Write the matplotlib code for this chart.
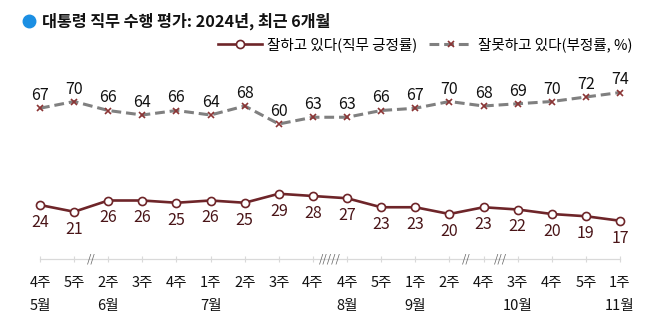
import matplotlib
matplotlib.use('Agg')
import matplotlib.pyplot as plt
import matplotlib.lines as mlines

plt.rcParams['font.family'] = ['Noto Sans CJK KR', 'DejaVu Sans']

weeks = ['4주', '5주', '2주', '3주', '4주', '1주', '2주', '3주', '4주',
         '4주', '5주', '1주', '2주', '4주', '3주', '4주', '5주', '1주']
months = {0: '5월', 2: '6월', 5: '7월', 9: '8월', 11: '9월', 14: '10월', 17: '11월'}
positive = [24, 21, 26, 26, 25, 26, 25, 29, 28, 27, 23, 23, 20, 23, 22, 20, 19, 17]
negative = [67, 70, 66, 64, 66, 64, 68, 60, 63, 63, 66, 67, 70, 68, 69, 70, 72, 74]
# gaps in the weekly series (position between two points, mark)
breaks = [(1.5, '//'), (8.5, '/////'), (12.5, '//'), (13.5, '///')]

red = '#6e2529'
gray = '#808080'
x = list(range(len(weeks)))

fig = plt.figure(figsize=(6.58, 3.33), dpi=100, facecolor='white')
ax = fig.add_axes([40 / 658, 74 / 333, 580 / 658, 180 / 333])
ax.set_xlim(0, len(weeks) - 1)
ax.set_ylim(0, 80)

# lines
ax.plot(x, negative, color=gray, lw=2.2, dashes=(3.2, 1.6), marker='x', ms=4.5,
        mec='#8b3535', mew=1.2, clip_on=False, zorder=3)
ax.plot(x, positive, color=red, lw=1.9, marker='o', ms=5.8, mfc='white',
        mec=red, mew=1.2, clip_on=False, zorder=3)

# value labels
for i, v in zip(x, negative):
    ax.annotate(str(v), (i, v), xytext=(0, 9), textcoords='offset points',
                ha='center', va='center', fontsize=11.5, color='#111111')
for i, v in zip(x, positive):
    ax.annotate(str(v), (i, v), xytext=(0, -12.5), textcoords='offset points',
                ha='center', va='center', fontsize=11.5, color='#4a1518')

# axis
for s in ['top', 'right', 'left']:
    ax.spines[s].set_visible(False)
ax.spines['bottom'].set_color('#d9d9d9')
ax.spines['bottom'].set_linewidth(0.9)
ax.set_yticks([])
ax.set_xticks(x)
ax.set_xticklabels(weeks, fontsize=10.5, color='#111111')
ax.tick_params(axis='x', direction='inout', length=5, width=0.8,
               color='#d9d9d9', pad=10)

trans = ax.get_xaxis_transform()
for i, m in months.items():
    ax.annotate(m, (i, 0), xycoords=trans, xytext=(0, -34),
                textcoords='offset points', ha='center', va='center',
                fontsize=10.5, color='#111111', annotation_clip=False)
for pos, mark in breaks:
    ax.annotate(mark, (pos, 0), xycoords=trans, xytext=(0, 0),
                textcoords='offset points', ha='center', va='center',
                fontsize=8, style='italic', color='#666666',
                annotation_clip=False)

# title
fig.add_artist(mlines.Line2D([29 / 658], [1 - 21 / 333], marker='o', ms=9,
                             color='#1b8fe3', transform=fig.transFigure))
fig.text(42 / 658, 1 - 21 / 333, '대통령 직무 수행 평가: 2024년, 최근 6개월',
         fontsize=11.7, fontweight='bold', va='center', ha='left', color='#111111')

# legend
h1 = mlines.Line2D([], [], color=red, lw=1.9, marker='o', ms=5.8, mfc='white',
                   mec=red, mew=1.2)
h2 = mlines.Line2D([], [], color=gray, lw=2.2, dashes=(3.2, 1.6), marker='x',
                   ms=4.5, mec='#8b3535', mew=1.2)
fig.legend([h1, h2], ['잘하고 있다(직무 긍정률)', '잘못하고 있다(부정률, %)'],
           loc='center right', bbox_to_anchor=(632 / 658, 1 - 45 / 333),
           ncol=2, frameon=False, fontsize=10.5, handlelength=3.0,
           handletextpad=0.35, columnspacing=0.8, borderpad=0, borderaxespad=0,
           numpoints=1)

fig.savefig('out.png', dpi=100, facecolor='white')
